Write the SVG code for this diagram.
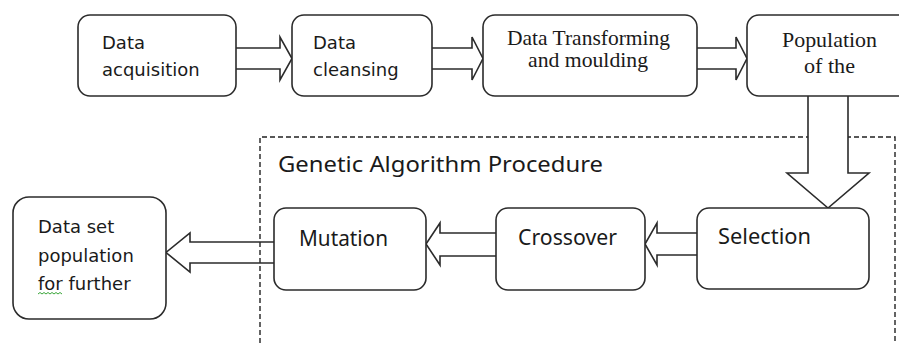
<svg xmlns="http://www.w3.org/2000/svg" width="899" height="343" viewBox="0 0 899 343">
  <style>
    .box { fill: #ffffff; stroke: #2b2b2b; stroke-width: 1.6; }
    .arrow { fill: #ffffff; stroke: #2b2b2b; stroke-width: 1.6; stroke-linejoin: miter; }
    .frame { fill: none; stroke: #222222; stroke-width: 1.4; stroke-dasharray: 5 3; }
    .t1 { font-family: "DejaVu Sans", "Liberation Sans", sans-serif; font-size: 18px; fill: #1a1a1a; }
    .t2 { font-family: "Liberation Serif", "Times New Roman", serif; font-size: 21px; fill: #1a1a1a; }
    .t3 { font-family: "Noto Sans", "Liberation Sans", Arial, sans-serif; font-size: 21px; fill: #1a1a1a; }
  </style>

  <!-- dashed frame around the GA steps -->
  <path class="frame" d="M260,343 V137 H895 V343"/>
  <text class="t3" x="278" y="172" textLength="325" lengthAdjust="spacingAndGlyphs">Genetic Algorithm Procedure</text>

  <g id="connectors">
    <path class="arrow" d="M236,48 H280 V37 L292,58.5 L280,80 V69 H236"/>
    <path class="arrow" d="M432,48 H472 V37 L483,58.5 L472,80 V69 H432"/>
    <path class="arrow" d="M697,48 H736 V37 L747,58.5 L736,80 V69 H697"/>
    <path class="arrow" d="M808,96 V173 H787 L828,208 L869,173 H848 V96"/>
    <path class="arrow" d="M697,233 H657 V223 L645,244 L657,265 V255 H697"/>
    <path class="arrow" d="M496,233 H440 V223 L426,244 L440,265 V256 H496"/>
    <path class="arrow" style="fill:none" d="M274,242 H190 V233 L166,252.5 L190,272 V263 H274"/>
  </g>

  <g id="acquisition">
    <rect class="box" x="78" y="15" width="158" height="81" rx="12"/>
    <text class="t1" x="102" y="49">Data</text>
    <text class="t1" x="102" y="76">acquisition</text>
  </g>

  <g id="cleansing">
    <rect class="box" x="292" y="15" width="140" height="81" rx="12"/>
    <text class="t1" x="313" y="49">Data</text>
    <text class="t1" x="313" y="76">cleansing</text>
  </g>

  <g id="transforming">
    <rect class="box" x="483" y="15" width="214" height="81" rx="12"/>
    <text class="t2" x="507" y="45" textLength="163" lengthAdjust="spacingAndGlyphs">Data Transforming</text>
    <text class="t2" x="528" y="67" textLength="120" lengthAdjust="spacingAndGlyphs">and moulding</text>
  </g>

  <g id="population">
    <rect class="box" x="747" y="15" width="170" height="81" rx="12"/>
    <text class="t2" x="782" y="47" textLength="95" lengthAdjust="spacingAndGlyphs">Population</text>
    <text class="t2" x="804" y="73" textLength="51" lengthAdjust="spacingAndGlyphs">of the</text>
  </g>

  <g id="selection">
    <rect class="box" x="697" y="208" width="172" height="81" rx="12"/>
    <text class="t3" x="718" y="244" textLength="93" lengthAdjust="spacingAndGlyphs">Selection</text>
  </g>

  <g id="crossover">
    <rect class="box" x="496" y="208" width="149" height="82" rx="12"/>
    <text class="t3" x="518" y="245" textLength="99" lengthAdjust="spacingAndGlyphs">Crossover</text>
  </g>

  <g id="mutation">
    <rect class="box" x="274" y="208" width="152" height="82" rx="12"/>
    <text class="t3" x="299" y="246" textLength="89" lengthAdjust="spacingAndGlyphs">Mutation</text>
  </g>

  <g id="dataset">
    <rect class="box" x="13" y="197" width="153" height="122" rx="16"/>
    <text class="t1" x="38" y="233">Data set</text>
    <text class="t1" x="38" y="262">population</text>
    <text class="t1" x="38" y="290">for further</text>
    <!-- spell-check squiggle under "for" -->
    <path d="M38,294 l2,-1.5 l2,1.5 l2,-1.5 l2,1.5 l2,-1.5 l2,1.5 l2,-1.5 l2,1.5 l2,-1.5 l2,1.5 l2,-1.5 l2,1.5" fill="none" stroke="#3aa63a" stroke-width="1"/>
  </g>
</svg>
